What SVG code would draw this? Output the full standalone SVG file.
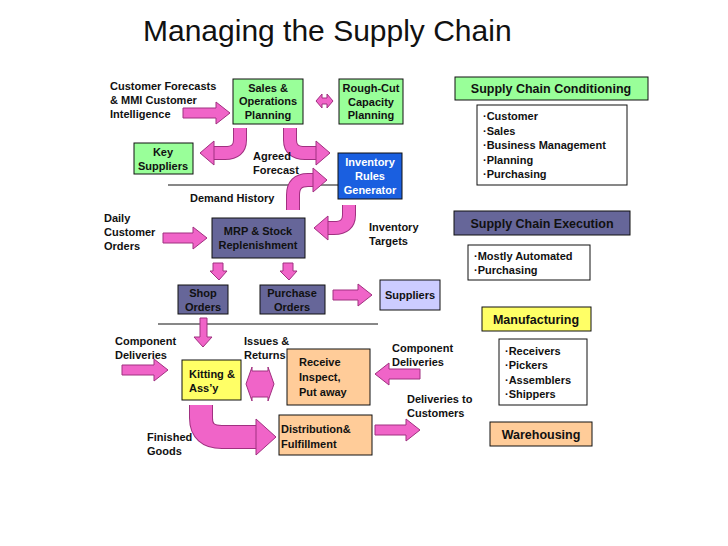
<svg xmlns="http://www.w3.org/2000/svg" width="728" height="546" viewBox="0 0 728 546">
<style>
text{font-family:"Liberation Sans",Arial,sans-serif;font-weight:bold;font-size:11px;fill:#111}
.title{font-weight:normal;font-size:30px}
.c{text-anchor:middle}
.box{stroke:#111;stroke-width:1}
.g{fill:#99ff99}.b{fill:#1a5fe0}.s{fill:#666699}.l{fill:#ccccff}.y{fill:#ffff66}.o{fill:#ffcc99}.w{fill:#fff}
.ar{fill:#f064c8;stroke:#a03080;stroke-width:1}
.co{fill:none;stroke:#a03080;stroke-width:14}
.ci{fill:none;stroke:#f064c8;stroke-width:12}
.ln{stroke:#111;stroke-width:1}
</style>
<rect width="728" height="546" fill="#fff"/>
<text class="title" x="143" y="41">Managing the Supply Chain</text>

<g id="connectors">
<line class="ln" x1="168" y1="185" x2="338" y2="185"/>
<line class="ln" x1="158" y1="324" x2="378" y2="324"/>
<path class="ar" d="M183,108 H216 V102 L230,113 L216,124 V118 H183 Z"/>
<path class="ar" d="M316,101 L322,94 V98 H327 V94 L333,101 L327,108 V104 H322 V108 Z"/>
<path class="co" d="M240,128 V140 Q240,153 225,153 H213"/><path class="ci" d="M240,128 V140 Q240,153 225,153 H213"/>
<polygon class="ar" points="200,153 214,141 214,165"/>
<path class="co" d="M290,128 V140 Q290,153 305,153 H316"/><path class="ci" d="M290,128 V140 Q290,153 305,153 H316"/>
<polygon class="ar" points="330,153 316,141 316,165"/>
<path class="co" d="M293,210 V195 Q293,180 308,180 H313"/><path class="ci" d="M293,210 V195 Q293,180 308,180 H313"/>
<polygon class="ar" points="327,180 313,168 313,192"/>
<path class="co" d="M349,205 V215 Q349,228 334,228 H328"/><path class="ci" d="M349,205 V215 Q349,228 334,228 H328"/>
<polygon class="ar" points="314,228 328,216 328,240"/>
<path class="ar" d="M163,233 H193 V227 L207,238 L193,249 V243 H163 Z"/>
<path class="ar" d="M213,263 H223 V271 H227 L219,280 L210,271 H213 Z"/>
<path class="ar" d="M283,263 H293 V271 H297 L289,280 L280,271 H283 Z"/>
<path class="ar" d="M333,290 H358 V284 L372,295 L358,306 V300 H333 Z"/>
<path class="ar" d="M200,318 H207 V337 H212 L203,347 L194,337 H200 Z"/>
<path class="ar" d="M122,365 H154 V359 L168,370 L154,381 V375 H122 Z"/>
<path class="ar" d="M246,384 L252,367 V371 H268 V367 L274,384 L268,401 V397 H252 V401 Z"/>
<path class="ar" d="M420,369 H389 V363 L375,374 L389,385 V379 H420 Z"/>
<path class="ar" d="M375,425 H406 V419 L420,430 L406,441 V435 H375 Z"/>
<path fill="none" stroke="#a03080" stroke-width="24" d="M201,405 V418 Q201,437 222,437 H258"/>
<path fill="none" stroke="#f064c8" stroke-width="22" d="M201,405 V418 Q201,437 222,437 H259"/>
<polygon class="ar" points="276,437 256,419 256,455"/>
</g>

<g id="customer-forecasts"><text x="110" y="90">Customer Forecasts</text><text x="110" y="104">&amp; MMI Customer</text><text x="110" y="118">Intelligence</text></g>
<g id="sop"><rect class="box g" x="233" y="79" width="70" height="45"/><text class="c" x="268" y="92">Sales &amp;</text><text class="c" x="268" y="105">Operations</text><text class="c" x="268" y="119">Planning</text></g>
<g id="rough-cut"><rect class="box g" x="339" y="79" width="64" height="45"/><text class="c" x="371" y="92">Rough-Cut</text><text class="c" x="371" y="106">Capacity</text><text class="c" x="371" y="119">Planning</text></g>
<g id="key-suppliers"><rect class="box g" x="134" y="143" width="59" height="31"/><text class="c" x="163" y="156">Key</text><text class="c" x="163" y="170">Suppliers</text></g>
<g id="agreed"><text x="253" y="160">Agreed</text><text x="253" y="174">Forecast</text></g>
<g id="irg"><rect class="box b" x="338" y="153" width="64" height="46"/><text class="c" x="370" y="166" style="fill:#fff">Inventory</text><text class="c" x="370" y="180" style="fill:#fff">Rules</text><text class="c" x="370" y="194" style="fill:#fff">Generator</text></g>
<g id="demand"><text x="190" y="202">Demand History</text></g>
<g id="daily"><text x="104" y="222">Daily</text><text x="104" y="236">Customer</text><text x="104" y="250">Orders</text></g>
<g id="mrp"><rect class="box s" x="212" y="218" width="93" height="40"/><text class="c" x="258" y="235">MRP &amp; Stock</text><text class="c" x="258" y="249">Replenishment</text></g>
<g id="targets"><text x="369" y="231">Inventory</text><text x="369" y="245">Targets</text></g>
<g id="shop"><rect class="box s" x="178" y="285" width="50" height="29"/><text class="c" x="203" y="297">Shop</text><text class="c" x="203" y="311">Orders</text></g>
<g id="purchase"><rect class="box s" x="260" y="285" width="65" height="29"/><text class="c" x="292" y="297">Purchase</text><text class="c" x="292" y="311">Orders</text></g>
<g id="suppliers"><rect class="box l" x="380" y="280" width="60" height="30"/><text class="c" x="410" y="299">Suppliers</text></g>
<g id="comp1"><text x="115" y="345">Component</text><text x="115" y="359">Deliveries</text></g>
<g id="kitting"><rect class="box y" x="182" y="360" width="59" height="40"/><text x="189" y="378">Kitting &amp;</text><text x="189" y="392">Ass’y</text></g>
<g id="issues"><text x="244" y="345">Issues &amp;</text><text x="244" y="359">Returns</text></g>
<g id="receive"><rect class="box o" x="287" y="349" width="83" height="56"/><text x="299" y="366">Receive</text><text x="299" y="381">Inspect,</text><text x="299" y="396">Put away</text></g>
<g id="comp2"><text x="392" y="352">Component</text><text x="392" y="366">Deliveries</text></g>
<g id="deliv"><text x="407" y="403">Deliveries to</text><text x="407" y="417">Customers</text></g>
<g id="dist"><rect class="box o" x="279" y="415" width="93" height="40"/><text x="281" y="433">Distribution&amp;</text><text x="281" y="448">Fulfillment</text></g>
<g id="finished"><text x="147" y="441">Finished</text><text x="147" y="455">Goods</text></g>

<g id="scc"><rect class="box g" x="455" y="77" width="193" height="23"/><text class="c" x="551" y="93" style="font-size:12.5px">Supply Chain Conditioning</text></g>
<g id="scc-list"><rect class="box w" x="477" y="105" width="150" height="80"/><text x="483" y="120">·Customer</text><text x="483" y="135">·Sales</text><text x="483" y="149">·Business Management</text><text x="483" y="164">·Planning</text><text x="483" y="178">·Purchasing</text></g>
<g id="sce"><rect class="box s" x="454" y="211" width="176" height="24"/><text class="c" x="542" y="228" style="font-size:12.5px">Supply Chain Execution</text></g>
<g id="sce-list"><rect class="box w" x="468" y="245" width="122" height="35"/><text x="474" y="260">·Mostly Automated</text><text x="474" y="274">·Purchasing</text></g>
<g id="mfg"><rect class="box y" x="482" y="307" width="109" height="24"/><text class="c" x="536" y="324" style="font-size:12.5px">Manufacturing</text></g>
<g id="mfg-list"><rect class="box w" x="499" y="339" width="88" height="66"/><text x="505" y="355">·Receivers</text><text x="505" y="369">·Pickers</text><text x="505" y="384">·Assemblers</text><text x="505" y="398">·Shippers</text></g>
<g id="wh"><rect class="box o" x="490" y="422" width="102" height="24"/><text class="c" x="541" y="439" style="font-size:12.5px">Warehousing</text></g>
</svg>
